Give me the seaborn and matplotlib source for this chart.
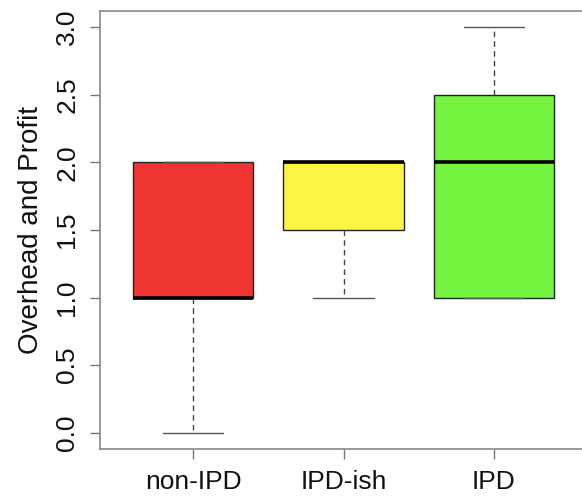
import matplotlib
matplotlib.use("Agg")
import matplotlib.pyplot as plt
import seaborn as sns
import pandas as pd

# survey scores per group (raw values, chosen to give the drawn quartiles)
groups = ["non-IPD", "IPD-ish", "IPD"]
non_ipd = [0, 1, 1, 1, 1, 2, 2, 2, 2]
ipd_ish = [1, 1.5, 2, 2, 2]
ipd = [1, 1, 1, 2, 2, 2.5, 2.5, 3, 3]
colors = ["#ee3532", "#fdf545", "#74f43f"]
yticks = [0.0, 0.5, 1.0, 1.5, 2.0, 2.5, 3.0]

df = pd.DataFrame({
    "group": ["non-IPD"] * len(non_ipd) + ["IPD-ish"] * len(ipd_ish) + ["IPD"] * len(ipd),
    "value": non_ipd + ipd_ish + ipd,
})

sns.set_style("white")
plt.rcParams["font.family"] = ["Liberation Sans", "DejaVu Sans"]
plt.rcParams["text.color"] = "#111111"
plt.rcParams["axes.labelcolor"] = "#111111"
plt.rcParams["xtick.color"] = "#111111"
plt.rcParams["ytick.color"] = "#111111"

fig = plt.figure(figsize=(5.82, 4.97), dpi=100)
ax = fig.add_axes([100 / 582, 1 - 449 / 497, 487 / 582, 438 / 497])

sns.boxplot(data=df, x="group", y="value", order=groups, hue="group",
            palette=colors, legend=False, width=0.8, whis=1.5, ax=ax,
            linewidth=1.0, linecolor="black", saturation=1,
            boxprops=dict(edgecolor="#222222", linewidth=1.0),
            whiskerprops=dict(color="#444444", linestyle=(0, (4, 3)), linewidth=1.0),
            capprops=dict(color="#555555", linewidth=1.0),
            medianprops=dict(color="black", linewidth=2.6),
            showfliers=False)

ax.set_xlim(-0.62, 2.62)
ax.set_ylim(-0.12, 3.12)
ax.set_yticks(yticks)
ax.set_yticklabels([f"{v:.1f}" for v in yticks], rotation=90, va="center")
ax.set_xlabel("")
ax.set_ylabel("Overhead and Profit", fontsize=20, labelpad=8)
ax.tick_params(axis="both", labelsize=19, length=7, width=1, color="#777777",
               left=True, bottom=True, pad=8)
for s in ax.spines.values():
    s.set_color("#888888")
    s.set_linewidth(1.2)

fig.savefig("out.png", dpi=100)
